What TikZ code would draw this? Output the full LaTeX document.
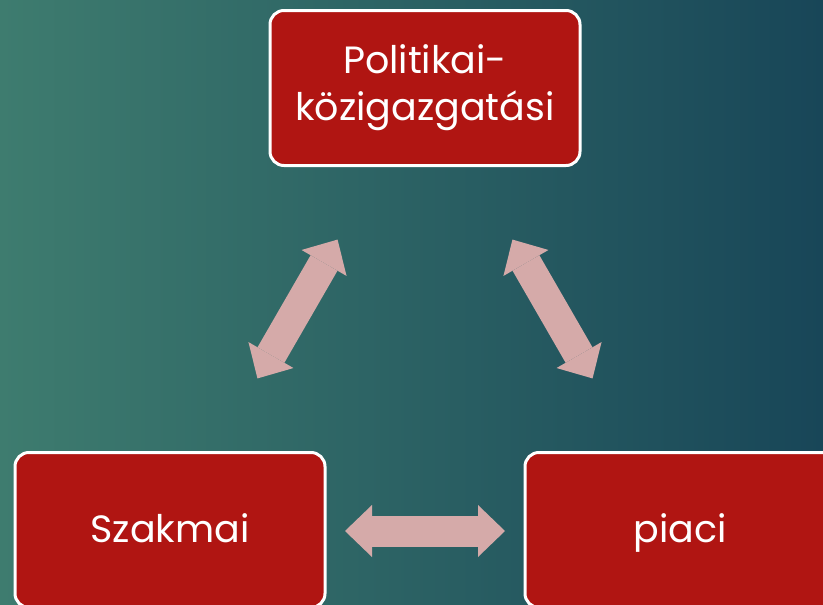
\documentclass[tikz,border=0pt]{standalone}
\usepackage{fontspec}
\setmainfont{Poppins}
\usetikzlibrary{arrows.meta}
\definecolor{bgleft}{RGB}{62,124,111}
\definecolor{bgright}{RGB}{24,70,88}
\definecolor{boxred}{RGB}{176,21,18}
\definecolor{arrowpink}{RGB}{213,170,169}
\tikzset{
  field/.style={draw=white, line width=3pt, fill=boxred, rounded corners=14pt,
    minimum width=310pt, minimum height=155pt, inner sep=0pt,
    text=white, align=center, font=\fontsize{38}{47}\selectfont},
  oneline/.style={text height=36pt, text depth=11pt},
  link/.style={draw=arrowpink, line width=31pt,
    {Triangle[length=27pt,width=52pt,line width=0pt]}-{Triangle[length=27pt,width=52pt,line width=0pt]},
    shorten <=175pt, shorten >=175pt}
}

\begin{document}
\begin{tikzpicture}[x=1pt,y=-1pt]
   % background
   \clip (0,0) rectangle (823,605);
   \shade[left color=bgleft, right color=bgright] (0,0) rectangle (823,605);

   % the three fields
   \node[field] (pol) at (425,88) {Politikai-\\közigazgatási};
   \node[field,oneline] (szak) at (170,530) {Szakmai};
   \node[field,oneline] (piac) at (680,530) {piaci};

   % links, measured from the centres
   \draw[link] (szak.center) -- (pol.center);
   \draw[link] (piac.center) -- (pol.center);
   \draw[link] ([yshift=-1pt]szak.center) -- ([yshift=-1pt]piac.center);
\end{tikzpicture}
\end{document}
